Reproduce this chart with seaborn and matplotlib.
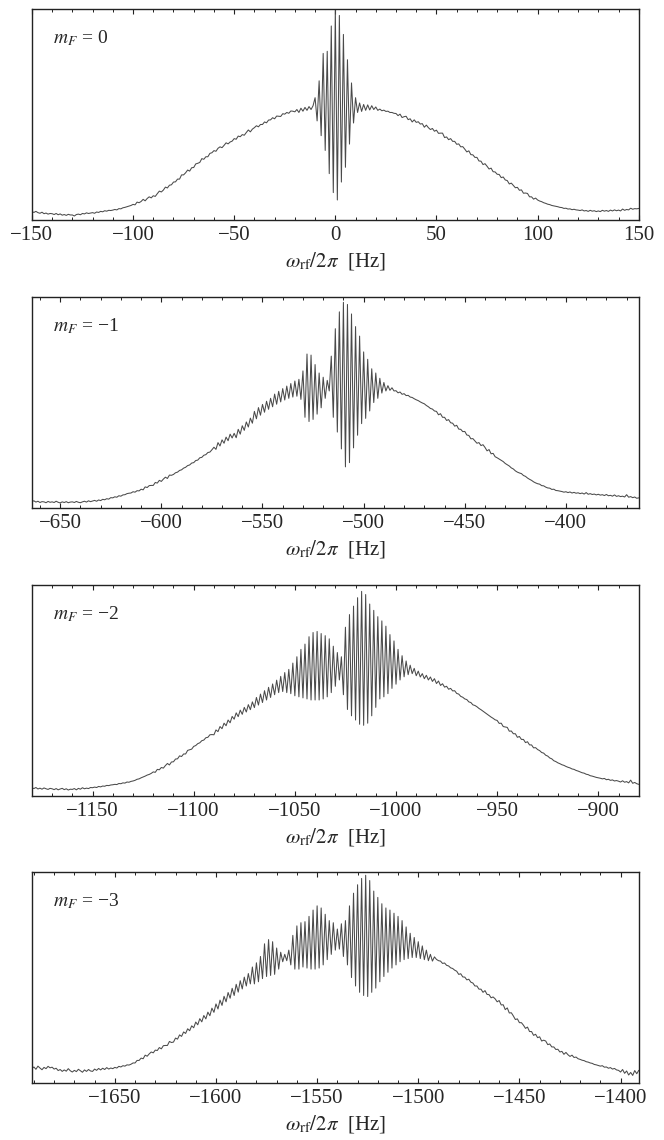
import numpy as np
import matplotlib
matplotlib.use("Agg")
from matplotlib import pyplot as plt
from matplotlib.ticker import MultipleLocator
import seaborn as sns

# signal in percent of panel height, 1 Hz steps starting at scan_start
scan_start = [-150, -664, -1180, -1691]
panel_xlim = [(-150, 150), (-664, -364), (-1180, -880), (-1691, -1391)]
panel_labels = ['0', '\u22121', '\u22122', '\u22123']

signal_m0 = [
    4.0, 3.6, 4.1, 3.5, 3.2, 3.7, 3.0, 3.3, 2.8, 3.1,
    3.0, 2.6, 3.1, 2.5, 2.9, 2.3, 2.6, 2.2, 2.7, 2.4,
    2.4, 1.9, 2.6, 2.8, 2.5, 3.1, 2.9, 3.4, 3.1, 3.3,
    3.5, 3.2, 3.8, 3.6, 4.1, 3.9, 4.4, 4.2, 4.6, 4.5,
    4.7, 5.0, 4.8, 5.4, 5.3, 5.8, 6.0, 6.3, 6.6, 6.9,
    7.4, 7.2, 8.5, 8.2, 8.8, 9.8, 9.1, 10.2, 11.0, 10.5,
    11.5, 11.2, 12.5, 13.7, 13.3, 14.2, 15.6, 15.2, 16.5, 16.7,
    18.0, 18.1, 19.4, 19.4, 21.4, 21.4, 22.4, 23.7, 23.2, 24.8,
    24.9, 26.6, 26.9, 27.3, 29.1, 28.8, 30.0, 30.0, 31.6, 31.9,
    32.9, 32.6, 34.0, 34.7, 34.3, 35.4, 36.6, 36.1, 37.0, 37.4,
    38.6, 38.3, 39.8, 39.5, 40.5, 40.2, 41.5, 42.7, 41.8, 43.1,
    43.8, 44.7, 44.2, 45.3, 45.3, 46.5, 46.1, 47.4, 47.5, 48.5,
    48.0, 49.3, 49.2, 49.1, 50.4, 50.2, 51.0, 50.6, 51.7, 51.6,
    51.3, 52.4, 51.0, 53.0, 51.6, 53.4, 52.0, 53.8, 52.4, 54.2,
    58.0, 47.0, 66.0, 40.0, 79.0, 33.0, 80.0, 22.0, 92.0, 13.0,
    99.5, 9.5, 97.0, 18.0, 88.0, 25.0, 76.0, 36.0, 65.0, 46.0,
    58.0, 51.0, 55.5, 51.5, 54.8, 52.0, 54.6, 52.2, 54.2, 52.4,
    53.6, 52.0, 52.6, 51.8, 52.1, 51.5, 51.6, 51.0, 51.0, 50.6,
    50.5, 49.5, 50.2, 48.6, 49.0, 49.2, 47.6, 48.0, 46.5, 47.5,
    46.3, 46.6, 45.5, 45.7, 44.0, 45.0, 43.8, 42.9, 43.4, 42.1,
    42.6, 41.1, 41.2, 41.2, 39.1, 39.4, 38.1, 38.6, 37.3, 37.3,
    35.9, 36.1, 34.7, 34.8, 33.6, 32.3, 32.8, 31.0, 30.9, 29.7,
    29.7, 28.0, 27.9, 26.3, 26.7, 25.5, 24.2, 24.6, 22.9, 22.8,
    21.7, 21.6, 20.1, 20.4, 19.0, 18.7, 17.1, 17.5, 16.4, 15.3,
    15.5, 14.1, 14.3, 12.7, 12.8, 12.6, 11.0, 11.0, 9.9, 10.4,
    9.5, 9.0, 8.7, 8.2, 7.9, 7.5, 7.3, 6.9, 6.7, 6.5,
    6.3, 6.0, 5.9, 5.5, 5.6, 5.2, 5.3, 4.9, 5.1, 4.8,
    4.7, 4.5, 4.8, 4.3, 4.5, 4.1, 4.6, 4.2, 4.4, 4.0,
    4.3, 4.0, 4.6, 4.2, 4.5, 4.1, 4.7, 4.3, 4.8, 4.4,
    4.7, 4.3, 5.2, 4.6, 5.0, 4.8, 5.6, 5.1, 5.4, 5.3,
    5.5,
]

signal_m1 = [
    3.1, 3.4, 2.8, 3.2, 2.6, 3.0, 2.9, 2.5, 3.1, 2.7,
    2.9, 2.6, 3.2, 2.7, 2.4, 2.9, 2.6, 3.0, 2.5, 2.8,
    2.9, 2.6, 3.1, 2.7, 2.5, 2.9, 3.2, 2.8, 3.4, 3.0,
    3.3, 3.6, 3.2, 3.8, 3.5, 4.1, 3.9, 4.4, 4.2, 4.9,
    4.8, 5.3, 5.1, 5.8, 5.6, 6.2, 6.3, 6.8, 7.0, 7.1,
    7.7, 7.5, 8.2, 8.1, 8.9, 8.6, 10.0, 9.7, 10.6, 10.7,
    10.7, 12.1, 11.8, 13.1, 12.6, 13.7, 14.6, 14.0, 15.6, 15.5,
    15.9, 16.7, 17.0, 17.8, 18.1, 18.9, 19.3, 20.1, 20.4, 21.3,
    21.5, 22.5, 22.7, 23.8, 24.0, 25.0, 25.3, 26.3, 26.5, 27.6,
    28.8, 27.8, 31.0, 29.4, 32.3, 30.7, 33.6, 31.9, 35.0, 33.2,
    35.4, 33.3, 37.3, 35.0, 39.0, 36.8, 40.8, 38.4, 42.6, 40.2,
    45.8, 42.3, 47.6, 44.0, 49.1, 45.4, 50.6, 46.8, 52.0, 48.0,
    54.0, 49.2, 55.3, 50.3, 56.6, 51.2, 57.8, 52.0, 59.0, 52.6,
    60.2, 53.0, 61.0, 51.5, 65.0, 43.0, 73.0, 41.0, 72.5, 42.0,
    68.0, 44.5, 64.0, 47.5, 62.0, 52.0, 60.5, 55.5, 72.0, 43.0,
    85.0, 36.0, 93.0, 28.0, 97.5, 19.5, 96.5, 21.5, 92.0, 28.5,
    86.0, 34.5, 81.5, 40.0, 74.0, 42.5, 70.5, 46.0, 66.0, 50.0,
    64.0, 52.0, 61.5, 54.5, 59.5, 55.5, 58.0, 55.8, 57.0, 55.5,
    55.6, 54.6, 55.0, 53.9, 54.2, 53.3, 53.4, 52.6, 52.4, 51.8,
    51.3, 50.9, 50.3, 49.8, 49.4, 48.6, 48.0, 47.2, 46.9, 46.0,
    45.8, 44.2, 44.7, 43.0, 43.0, 41.5, 41.9, 40.4, 40.2, 38.8,
    39.2, 37.4, 37.3, 36.2, 36.3, 34.6, 34.4, 32.8, 32.9, 31.8,
    30.7, 31.0, 29.6, 30.0, 28.7, 27.1, 27.7, 25.7, 25.9, 24.3,
    23.8, 23.2, 22.6, 22.0, 21.1, 20.5, 19.9, 19.0, 18.5, 17.6,
    17.0, 16.6, 16.3, 15.4, 15.0, 14.2, 13.6, 13.1, 12.4, 11.9,
    11.5, 11.3, 10.6, 10.5, 9.9, 9.5, 9.4, 8.8, 8.9, 8.3,
    8.2, 8.0, 7.8, 7.5, 7.7, 7.3, 7.6, 7.1, 7.4, 7.0,
    7.2, 6.8, 7.1, 6.6, 7.3, 6.5, 6.8, 6.4, 6.6, 6.2,
    6.5, 6.1, 6.3, 5.9, 6.4, 5.8, 6.0, 5.6, 6.2, 5.5,
    5.8, 5.4, 5.6, 5.2, 6.3, 5.1, 5.4, 4.9, 5.2, 4.6,
    4.8,
]

signal_m2 = [
    3.9, 3.5, 4.0, 3.3, 3.7, 3.2, 3.8, 3.4, 3.1, 3.6,
    3.4, 3.0, 3.5, 2.9, 3.3, 3.6, 3.0, 3.4, 2.8, 3.2,
    3.1, 3.5, 2.9, 3.6, 3.2, 3.9, 3.4, 3.7, 3.5, 4.0,
    3.9, 4.2, 4.0, 4.5, 4.3, 4.7, 4.6, 5.0, 4.9, 5.2,
    5.3, 5.5, 5.4, 5.9, 5.8, 6.2, 6.1, 6.6, 6.5, 6.9,
    7.1, 7.4, 7.9, 8.1, 8.6, 9.0, 9.4, 9.9, 10.2, 10.7,
    11.4, 11.2, 12.6, 12.4, 13.5, 13.2, 14.4, 15.4, 14.7, 16.1,
    16.2, 17.5, 17.6, 19.0, 18.7, 19.9, 19.9, 21.6, 21.9, 22.2,
    23.5, 23.9, 24.8, 25.2, 26.2, 26.5, 27.6, 27.8, 29.0, 29.1,
    29.0, 31.3, 30.5, 32.9, 31.9, 34.5, 33.3, 36.0, 34.7, 37.7,
    36.4, 39.4, 37.6, 40.7, 38.7, 42.0, 39.8, 43.3, 40.9, 44.6,
    41.9, 46.7, 43.1, 48.3, 44.3, 49.9, 45.5, 51.5, 46.7, 53.1,
    48.0, 54.9, 49.0, 56.7, 49.5, 58.5, 49.0, 60.0, 48.5, 63.0,
    47.5, 66.0, 47.0, 69.5, 46.5, 72.0, 46.0, 75.5, 45.5, 77.5,
    45.5, 78.0, 45.5, 77.0, 46.0, 76.0, 47.0, 74.5, 49.0, 71.0,
    52.0, 68.0, 55.0, 66.0, 48.0, 80.0, 41.0, 86.0, 38.0, 90.0,
    36.0, 94.0, 34.0, 97.0, 33.5, 95.5, 34.5, 91.0, 38.0, 88.0,
    42.0, 85.0, 46.0, 83.0, 47.0, 80.5, 48.5, 76.5, 51.0, 73.5,
    53.0, 69.5, 55.0, 66.5, 56.5, 64.0, 57.5, 62.0, 58.0, 60.5,
    57.0, 59.2, 56.4, 58.0, 55.6, 57.2, 55.0, 56.4, 54.3, 55.6,
    53.3, 54.5, 52.4, 53.2, 51.6, 52.0, 50.6, 51.0, 49.8, 49.9,
    48.6, 48.3, 47.2, 46.8, 46.0, 45.7, 44.6, 44.3, 43.2, 42.9,
    42.3, 41.5, 40.9, 40.2, 39.5, 38.8, 38.1, 37.4, 36.8, 36.1,
    35.8, 34.4, 34.5, 32.9, 32.7, 32.5, 30.7, 30.8, 29.5, 29.5,
    27.8, 28.2, 26.8, 26.8, 25.3, 25.7, 24.2, 24.2, 22.8, 22.9,
    22.0, 21.5, 20.6, 20.3, 19.3, 18.9, 18.0, 17.6, 16.7, 16.3,
    15.7, 15.3, 14.8, 14.5, 14.0, 13.6, 13.3, 12.8, 12.6, 12.1,
    11.8, 11.4, 11.0, 10.8, 10.3, 10.1, 9.6, 9.4, 9.1, 8.8,
    8.6, 8.4, 8.1, 8.3, 7.7, 7.9, 7.4, 7.6, 7.1, 7.3,
    7.0, 6.6, 7.2, 6.5, 6.8, 6.2, 7.5, 6.0, 6.4, 5.8,
    5.5,
]

signal_m3 = [
    6.8, 7.6, 6.5, 8.0, 7.1, 6.3, 7.4, 6.8, 7.9, 7.2,
    7.5, 6.6, 7.0, 5.9, 6.4, 5.5, 6.2, 5.6, 6.8, 5.8,
    5.2, 6.0, 5.4, 6.5, 5.8, 5.1, 6.2, 5.5, 6.4, 5.7,
    5.5, 6.6, 6.0, 6.9, 6.2, 7.0, 6.4, 7.3, 6.6, 7.1,
    6.8, 7.4, 7.1, 7.9, 7.6, 8.2, 8.0, 8.6, 8.5, 8.9,
    9.5, 9.5, 10.7, 10.7, 11.8, 11.5, 13.2, 12.7, 13.8, 14.7,
    14.3, 15.6, 15.4, 16.8, 16.2, 17.7, 17.8, 17.8, 19.7, 19.2,
    19.4, 21.3, 20.8, 22.8, 22.1, 24.2, 23.5, 25.7, 24.8, 27.1,
    26.2, 28.9, 27.6, 30.5, 29.0, 32.0, 30.4, 33.6, 31.9, 35.5,
    33.5, 37.5, 35.1, 39.3, 36.8, 41.1, 38.5, 42.9, 40.2, 44.9,
    41.5, 46.8, 43.1, 48.5, 44.6, 50.2, 46.0, 51.9, 47.0, 55.0,
    47.0, 57.0, 48.0, 60.0, 49.5, 66.0, 50.5, 68.0, 51.0, 67.0,
    51.5, 64.0, 54.0, 62.0, 57.5, 61.0, 58.0, 63.0, 56.0, 70.0,
    54.0, 74.5, 54.0, 76.0, 55.0, 76.5, 54.5, 79.0, 54.0, 82.0,
    54.0, 84.0, 54.5, 83.0, 56.0, 80.0, 58.5, 77.0, 61.0, 76.0,
    63.0, 73.0, 63.5, 75.5, 60.0, 77.0, 56.0, 84.0, 50.0, 90.0,
    46.0, 94.0, 43.0, 97.0, 41.5, 98.5, 41.0, 96.0, 43.0, 91.0,
    45.0, 88.0, 48.0, 85.0, 50.5, 83.0, 52.5, 82.0, 54.5, 80.5,
    56.0, 79.0, 57.5, 77.0, 58.5, 74.0, 59.0, 71.0, 59.5, 69.0,
    59.5, 67.0, 59.0, 65.0, 58.5, 63.0, 58.0, 61.0, 57.8, 59.8,
    58.6, 58.0, 57.8, 56.7, 56.9, 55.8, 55.5, 54.6, 54.3, 53.5,
    53.0, 51.5, 51.8, 50.3, 50.2, 48.9, 49.2, 47.8, 47.4, 46.0,
    46.0, 44.5, 44.5, 43.0, 43.8, 42.0, 41.9, 40.4, 40.8, 39.9,
    38.5, 39.1, 37.0, 37.1, 34.8, 35.6, 33.2, 33.3, 31.8, 30.1,
    30.4, 28.6, 28.6, 27.4, 25.9, 26.5, 24.4, 24.4, 22.6, 23.1,
    21.5, 21.9, 19.9, 20.3, 19.9, 18.2, 18.5, 17.1, 17.1, 15.9,
    16.0, 14.7, 15.0, 13.6, 14.5, 13.4, 12.6, 13.2, 12.1, 12.3,
    11.5, 11.2, 10.8, 10.6, 10.1, 9.9, 9.5, 9.3, 8.8, 8.6,
    8.3, 8.0, 8.2, 7.5, 7.6, 7.0, 7.3, 6.6, 6.9, 6.2,
    6.0, 5.2, 6.4, 4.6, 5.7, 3.8, 5.0, 3.6, 5.9, 4.4,
    6.0,
]

signals = [signal_m0, signal_m1, signal_m2, signal_m3]

sns.set_theme(style="ticks")
plt.rcParams['font.family'] = ['Liberation Serif', 'DejaVu Serif']
plt.rcParams['mathtext.fontset'] = 'stix'
plt.rcParams['axes.unicode_minus'] = True

fig = plt.figure(figsize=(6.64, 11.4), dpi=100)
bottoms = [0.807, 0.5544, 0.3018, 0.050]

for i in range(4):
    ax = fig.add_axes([0.048, bottoms[i], 0.914, 0.185])
    freq = scan_start[i] + np.arange(len(signals[i]))
    sns.lineplot(x=freq, y=signals[i], ax=ax, color='#4a4a4a', linewidth=0.75,
                 estimator=None, sort=False)
    ax.set_xlim(panel_xlim[i])
    ax.set_ylim(0, 100)
    ax.set_yticks([])
    ax.set_ylabel('')
    ax.xaxis.set_major_locator(MultipleLocator(50))
    ax.xaxis.set_minor_locator(MultipleLocator(10))
    ax.tick_params(axis='x', which='both', direction='in', top=True, bottom=True,
                   labelsize=15, color='#222222', pad=4)
    ax.tick_params(axis='x', which='major', length=3.5, width=0.8)
    ax.tick_params(axis='x', which='minor', length=2.0, width=0.7)
    for s in ax.spines.values():
        s.set_visible(True)
        s.set_linewidth(1.0)
        s.set_color('#222222')
    ax.set_xlabel(r'$\omega_{\rm rf}/2\pi$  [Hz]', fontsize=15, labelpad=4)
    ax.text(0.035, 0.86, r'$m_F$ = ' + panel_labels[i], transform=ax.transAxes,
            fontsize=14, ha='left', va='center')

fig.savefig('out.png', dpi=100)
